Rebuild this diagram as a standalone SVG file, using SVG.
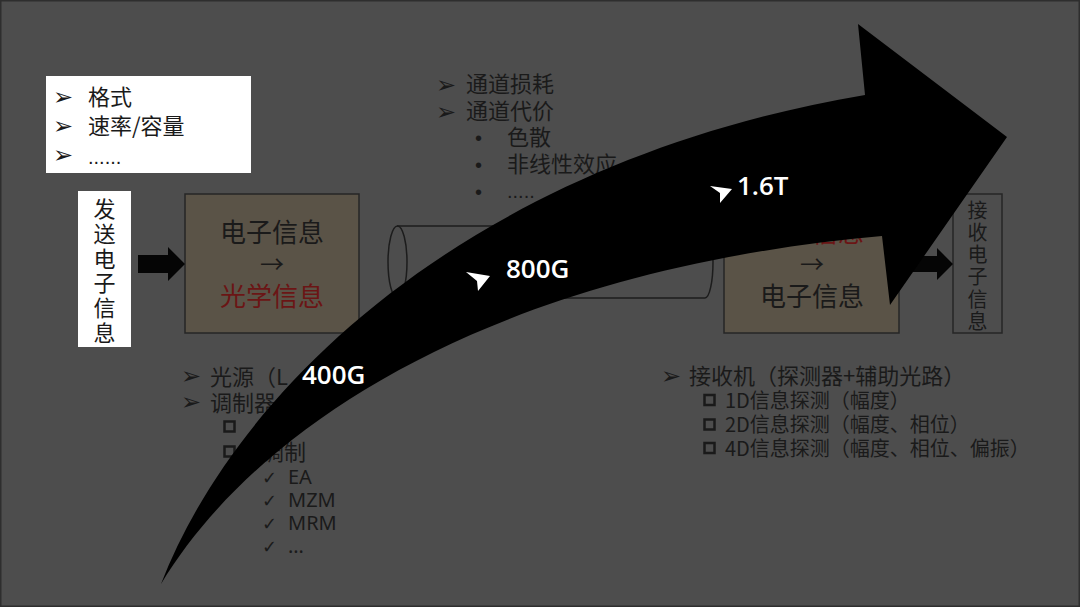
<svg xmlns="http://www.w3.org/2000/svg" width="1080" height="607" viewBox="0 0 1080 607">
<style>
.t{font-family:"Noto Sans CJK SC","Noto Sans",sans-serif;fill:#1a1a1a}
.bl{font-family:"DejaVu Sans",sans-serif;font-size:24px}
.ck{font-family:"DejaVu Sans",sans-serif;font-size:18px}
.dot{font-family:"Liberation Sans",sans-serif;font-size:20px}
.lat{font-family:"Noto Sans","Noto Sans CJK SC",sans-serif;font-size:20px}
.sq{fill:none;stroke:#1a1a1a;stroke-width:2.5}
.box{stroke:#262626;stroke-width:1.5}
.vt{writing-mode:vertical-rl;text-orientation:upright}
.lbl{font-family:"Open Sans","Noto Sans",sans-serif;font-weight:600;font-size:26px;fill:#ffffff}
</style>
<rect x="0" y="0" width="1080" height="607" fill="#4d4d4d"/>
<rect x="0.75" y="0.75" width="1078.5" height="605.5" fill="none" stroke="#2e2e2e" stroke-width="1.5"/>

<g id="notes-top-left">
<rect x="46" y="76" width="205" height="97" fill="#ffffff"/>
<text class="t" font-size="22"><tspan class="bl" x="53" y="105">➢</tspan><tspan x="88" y="105">格式</tspan><tspan class="bl" x="53" y="134">➢</tspan><tspan x="88" y="134">速率/容量</tspan><tspan class="bl" x="53" y="163">➢</tspan><tspan class="dot" x="88" y="164" font-size="22">......</tspan></text>
</g>

<g id="notes-channel">
<text class="t" font-size="22"><tspan class="bl" x="436" y="93">➢</tspan><tspan x="466" y="92">通道损耗</tspan><tspan class="bl" x="436" y="120">➢</tspan><tspan x="466" y="119">通道代价</tspan><tspan class="dot" x="475" y="145">•</tspan><tspan x="507" y="145">色散</tspan><tspan class="dot" x="475" y="172">•</tspan><tspan x="507" y="172">非线性效应</tspan><tspan class="dot" x="475" y="199">•</tspan><tspan class="dot" x="507" y="198" font-size="18">.....</tspan></text>
</g>

<g id="send">
<rect x="78" y="191" width="53" height="156" fill="#ffffff"/>
<text class="t vt" x="104.5" y="198" font-size="22" letter-spacing="2.7">发送电子信息</text>
</g>

<g id="transmitter">
<rect class="box" x="185" y="194" width="174" height="139" fill="#5a5347"/>
<text class="t" x="272" y="242" font-size="26" text-anchor="middle"><tspan x="272" y="242">电子信息</tspan><tspan x="272" y="273" font-size="24">→</tspan><tspan x="272" y="306" style="fill:#6b1515">光学信息</tspan></text>
</g>

<g id="fiber">
<path d="M397,226 L705,226 A8,36 0 0 1 705,298 L397,298" fill="none" stroke="#1c1c1c" stroke-width="1.5"/>
<ellipse cx="397.5" cy="262" rx="9.5" ry="36" fill="none" stroke="#1c1c1c" stroke-width="1.5"/>
</g>

<g id="receiver">
<rect class="box" x="724" y="194" width="175" height="139" fill="#5a5347"/>
<text class="t" x="812" y="242" font-size="26" text-anchor="middle"><tspan x="812" y="242" style="fill:#6b1515">光学信息</tspan><tspan x="812" y="273" font-size="24">→</tspan><tspan x="812" y="306">电子信息</tspan></text>
</g>

<g id="receive">
<rect class="box" x="953" y="194" width="49" height="139" fill="#4d4d4d"/>
<text class="t vt" x="977.5" y="200" font-size="20" letter-spacing="2.3">接收电子信息</text>
</g>

<g id="notes-tx">
<rect class="sq" x="224.5" y="421.5" width="10" height="10"/>
<rect class="sq" x="224.5" y="446.5" width="10" height="10"/>
<text class="t" font-size="22"><tspan class="bl" x="181" y="384">➢</tspan><tspan x="210" y="385">光源（L</tspan><tspan class="bl" x="181" y="410">➢</tspan><tspan x="210" y="411">调制器</tspan><tspan x="240" y="460">外调制</tspan><tspan class="ck" x="262" y="484">✓</tspan><tspan class="lat" x="288" y="484">EA</tspan><tspan class="ck" x="262" y="507">✓</tspan><tspan class="lat" x="288" y="507">MZM</tspan><tspan class="ck" x="262" y="530">✓</tspan><tspan class="lat" x="288" y="530">MRM</tspan><tspan class="ck" x="262" y="553">✓</tspan><tspan class="lat" x="288" y="553">…</tspan></text>
</g>

<g id="notes-rx">
<rect class="sq" x="704.5" y="395" width="10" height="10"/>
<rect class="sq" x="704.5" y="419.5" width="10" height="10"/>
<rect class="sq" x="704.5" y="443" width="10" height="10"/>
<text class="t" font-size="20"><tspan class="bl" x="661" y="384">➢</tspan><tspan x="689" y="384" font-size="22">接收机（探测器+辅助光路）</tspan><tspan x="725" y="408">1D信息探测（幅度）</tspan><tspan x="725" y="432">2D信息探测（幅度、相位）</tspan><tspan x="725" y="456">4D信息探测（幅度、相位、偏振）</tspan></text>
</g>

<g id="connectors">
<polygon points="138,255 168,255 168,247 185,264 168,281 168,273 138,273" fill="#050505"/>
<polygon points="900,256 937,256 937,248 953,264 937,280 937,272 900,272" fill="#050505"/>
</g>

<g id="evolution-arrow">
<path d="M161,584 C240,380 480,160 865,95 L858,24 L1007,137 L890,305 L882,236 C500,270 260,420 161,584 Z" fill="#000000"/>
<text class="lbl" x="302" y="384">400G</text>
<polygon points="466,272 490,276 478,291 477,281" fill="#ffffff"/>
<text class="lbl" x="506" y="278">800G</text>
<polygon points="710,186 732,189 720,203 720,193" fill="#ffffff"/>
<text class="lbl" x="737" y="195">1.6T</text>
</g>
</svg>
